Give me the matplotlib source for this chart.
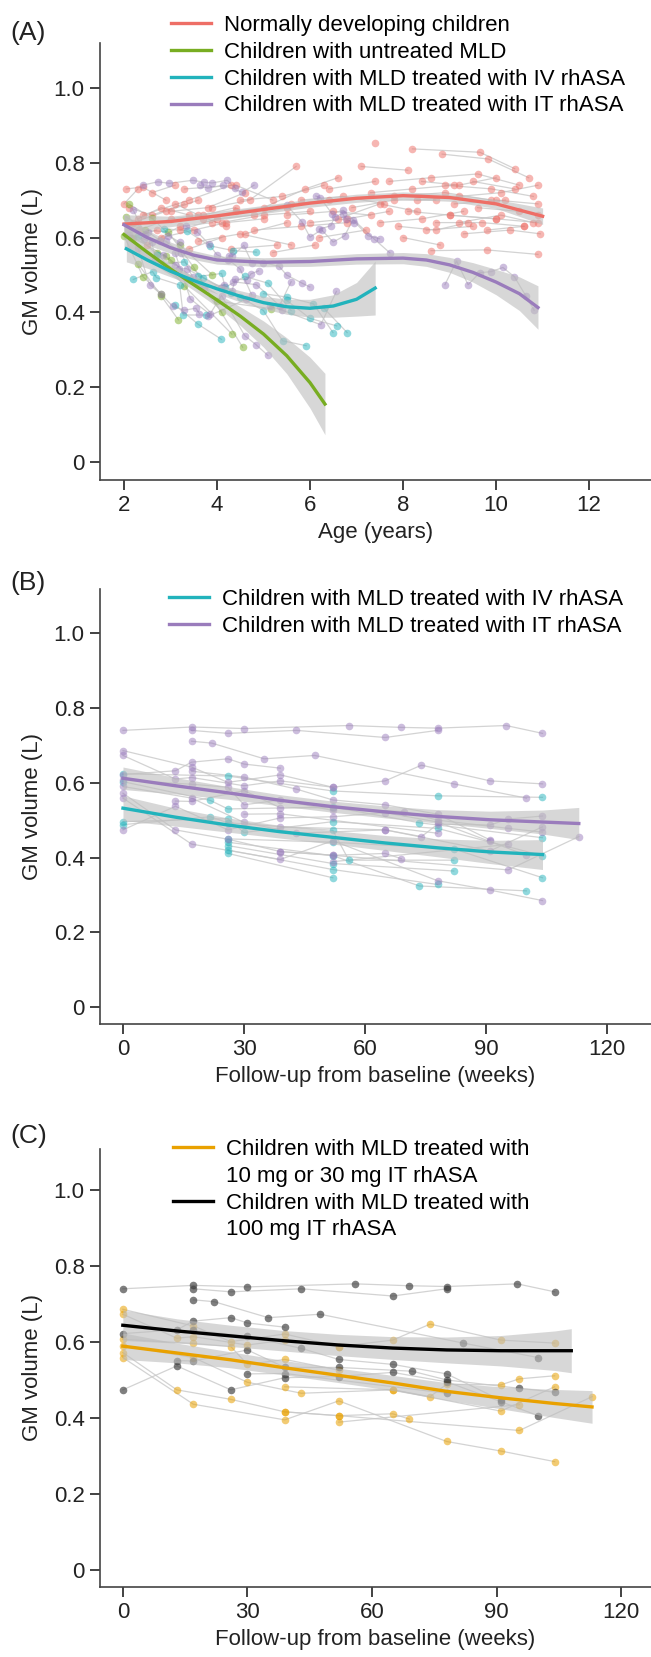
import numpy as np
import matplotlib.pyplot as plt
from matplotlib.lines import Line2D

plt.rcParams['font.family'] = ['Liberation Sans', 'DejaVu Sans']

RED, GREEN, TEAL, PURPLE = '#EE6E66', '#78AD22', '#22B3BC', '#9A7CBC'
ORANGE, BLACK = '#E9A100', '#000000'

# ---------------- panel A data: normally developing children (age, GM volume)
red_ages = [
    [2.05, 2.4, 2.9], [2.1, 2.6, 3.3], [2.2, 2.9, 3.6], [2.15, 2.7], [2.3, 3.0, 3.7, 4.4],
    [2.5, 3.2, 3.9], [2.4, 3.4, 4.3], [2.6, 3.1], [2.8, 3.5, 4.2, 5.0], [3.0, 3.8, 4.6],
    [3.2, 4.0, 4.8, 5.5], [3.4, 4.1], [3.3, 4.4, 5.2], [3.6, 4.5, 5.6], [3.9, 4.7, 5.7],
    [4.1, 5.0, 6.0], [4.3, 5.3], [4.5, 5.4, 6.3], [4.8, 5.8, 6.8], [5.0, 5.9, 6.6],
    [5.2, 6.1], [5.5, 6.5, 7.3], [5.8, 6.7, 7.6], [6.2, 7.2], [6.4, 7.4],
    [6.9, 7.8, 8.7], [7.1, 8.1], [7.4], [7.5, 8.4, 9.3], [7.7, 8.6, 9.6, 10.5],
    [7.8, 8.9, 9.9], [8.0, 8.8], [8.2, 9.65, 10.4], [8.1, 9.0, 10.0], [8.3, 9.2, 10.1, 10.9],
    [8.5, 9.5], [8.84, 9.83, 10.7], [8.7, 9.7, 10.6], [8.9, 9.9, 10.8], [9.0, 10.0, 10.9],
    [9.1, 10.2], [9.3, 10.3, 10.95], [8.6, 9.8, 10.9], [9.5, 10.4], [9.6, 10.5, 10.9],
    [9.2, 10.1, 10.8], [2.0, 2.3], [3.7, 4.4, 5.6, 6.4], [6.0, 6.8, 7.7], [9.8, 10.6],
    [8.4, 9.2, 10.0], [7.3, 8.2, 9.1], [10.0, 10.9], [7.9, 8.7, 9.4],
    [2.3, 2.8, 3.4], [4.6, 5.5], [6.6, 7.5, 8.3], [3.1, 3.6, 4.2],
]
red_vols = [
    [0.73, 0.735, 0.70], [0.68, 0.66, 0.69], [0.64, 0.67, 0.70], [0.60, 0.62], [0.62, 0.65, 0.66, 0.68],
    [0.58, 0.63, 0.64], [0.66, 0.70, 0.74], [0.72, 0.74], [0.60, 0.62, 0.64, 0.65], [0.67, 0.68, 0.72],
    [0.62, 0.65, 0.66, 0.68], [0.57, 0.60], [0.73, 0.74, 0.70], [0.59, 0.61, 0.58], [0.68, 0.70, 0.79],
    [0.64, 0.66, 0.67], [0.57, 0.58], [0.70, 0.71, 0.74], [0.62, 0.63, 0.64], [0.68, 0.73, 0.76],
    [0.56, 0.58], [0.66, 0.67, 0.66], [0.70, 0.71, 0.69], [0.60, 0.62], [0.73, 0.75],
    [0.68, 0.70, 0.70], [0.79, 0.78], [0.854], [0.64, 0.65, 0.67], [0.75, 0.76, 0.77, 0.74],
    [0.71, 0.72, 0.70], [0.60, 0.58], [0.837, 0.828, 0.784], [0.67, 0.66, 0.65], [0.70, 0.71, 0.72, 0.74],
    [0.62, 0.63], [0.823, 0.810, 0.76], [0.64, 0.64, 0.63], [0.74, 0.73, 0.71], [0.66, 0.65, 0.64],
    [0.69, 0.70], [0.61, 0.62, 0.61], [0.565, 0.567, 0.555], [0.75, 0.73], [0.68, 0.67, 0.66],
    [0.64, 0.66, 0.64], [0.69, 0.73], [0.65, 0.67, 0.69, 0.70], [0.64, 0.65, 0.67], [0.62, 0.63],
    [0.75, 0.74, 0.76], [0.72, 0.73, 0.74], [0.70, 0.69], [0.63, 0.62, 0.64],
    [0.65, 0.68, 0.66], [0.61, 0.64], [0.65, 0.69, 0.67], [0.69, 0.66, 0.63],
]

# untreated MLD
green_ages = [[2.1, 2.6, 3.2, 3.9], [2.05, 2.45, 2.95, 3.5, 4.55], [2.3, 2.8, 3.17], [2.0, 2.41, 2.8],
              [2.7, 3.3, 4.32], [3.0, 4.0, 5.16], [2.2, 2.9, 3.6, 4.1]]
green_vols = [[0.69, 0.652, 0.58, 0.50], [0.655, 0.62, 0.615, 0.52, 0.307], [0.53, 0.444, 0.38],
              [0.605, 0.495, 0.45], [0.56, 0.47, 0.342], [0.54, 0.43, 0.41], [0.60, 0.55, 0.48, 0.40]]

# ---------------- IV rhASA subjects (weeks from baseline, GM volume) + baseline age
iv_weeks = [[0, 26, 52, 78, 104], [0, 21.6, 26, 52, 73.5, 104], [0, 26, 30, 52, 78, 104],
            [0, 21.6, 26, 52, 56, 82], [26, 52, 82, 104], [26, 52, 73.5, 100], [26, 52, 82],
            [26, 52, 78], [26, 52]]
iv_vols = [[0.624, 0.618, 0.578, 0.565, 0.561], [0.603, 0.553, 0.530, 0.535, 0.493, 0.453],
           [0.496, 0.504, 0.467, 0.496, 0.478, 0.405], [0.488, 0.509, 0.493, 0.473, 0.393, 0.393],
           [0.450, 0.441, 0.423, 0.346], [0.441, 0.405, 0.324, 0.311], [0.432, 0.384, 0.364],
           [0.420, 0.368, 0.328], [0.411, 0.346]]
iv_base_age = [2.85, 2.3, 3.6, 2.2, 4.5, 4.0, 5.0, 2.6, 5.8]

# ---------------- IT rhASA subjects; dose 100 = 100 mg, 10 = 10 or 30 mg
it_weeks = [[0, 17, 30, 56, 69, 78, 95, 104], [17, 26, 43, 65, 78], [17, 22, 35, 47.5, 82, 100],
            [0, 13, 17, 26, 30, 39], [17, 30, 43, 52, 65, 78, 91],
            [13, 17, 30, 39, 52, 69.7, 78, 95.5, 104], [0, 13, 26, 39, 52, 65, 78, 91, 100],
            [30, 39, 78],
            [0, 17, 26, 39, 52, 65, 74, 91, 104], [0, 13, 17, 30, 39, 52], [0, 17, 26, 30, 39, 52],
            [0, 17, 30, 43, 65, 74, 78, 91, 95.5, 104], [0, 13, 26, 39, 52, 65, 69],
            [0, 17, 39, 52, 78, 91, 104], [39, 65, 91, 104], [39, 52, 95.5, 113], [52, 95.5]]
it_vols = [[0.740, 0.749, 0.745, 0.753, 0.748, 0.746, 0.753, 0.732], [0.740, 0.732, 0.740, 0.721, 0.740],
           [0.711, 0.706, 0.664, 0.673, 0.597, 0.559], [0.622, 0.632, 0.655, 0.664, 0.650, 0.639],
           [0.631, 0.615, 0.583, 0.554, 0.541, 0.516, 0.447],
           [0.551, 0.550, 0.579, 0.533, 0.533, 0.523, 0.500, 0.478, 0.468],
           [0.474, 0.537, 0.474, 0.506, 0.509, 0.520, 0.495, 0.443, 0.406],
           [0.516, 0.517, 0.465],
           [0.686, 0.642, 0.601, 0.621, 0.588, 0.605, 0.647, 0.605, 0.597],
           [0.673, 0.610, 0.614, 0.592, 0.605, 0.588], [0.607, 0.596, 0.588, 0.541, 0.554, 0.526],
           [0.590, 0.559, 0.494, 0.465, 0.474, 0.456, 0.489, 0.487, 0.503, 0.511],
           [0.572, 0.474, 0.449, 0.416, 0.406, 0.411, 0.397],
           [0.559, 0.436, 0.395, 0.445, 0.338, 0.313, 0.285], [0.482, 0.474, 0.418, 0.482],
           [0.416, 0.406, 0.367, 0.456], [0.389, 0.435]]
it_dose = [100] * 8 + [10] * 9
it_base_age = [2.4, 3.3, 5.8, 6.2, 3.0, 4.0, 8.9, 2.6, 5.5, 2.2, 2.1, 2.9, 2.3, 3.1, 3.6, 4.4, 2.8]

# ---------------- fitted curves (x, fit, CI half-width)
fitA = {
    'red': ([2, 3, 4, 5, 6, 7, 8, 9, 10, 11],
            [0.636, 0.643, 0.658, 0.675, 0.692, 0.705, 0.712, 0.707, 0.690, 0.657],
            [0.025, 0.014, 0.012, 0.011, 0.011, 0.011, 0.010, 0.010, 0.012, 0.022]),
    'green': ([2, 2.5, 3, 3.5, 4, 4.5, 5, 5.5, 6, 6.32],
              [0.608, 0.561, 0.516, 0.474, 0.433, 0.390, 0.342, 0.284, 0.212, 0.155],
              [0.035, 0.022, 0.016, 0.015, 0.018, 0.025, 0.035, 0.048, 0.068, 0.082]),
    'teal': ([2.05, 2.5, 3, 3.5, 4, 4.5, 5, 5.5, 6, 6.5, 7, 7.4],
             [0.570, 0.540, 0.510, 0.485, 0.463, 0.443, 0.426, 0.415, 0.411, 0.417, 0.435, 0.465],
             [0.035, 0.022, 0.015, 0.013, 0.013, 0.015, 0.017, 0.020, 0.024, 0.030, 0.045, 0.072]),
    'purple': ([2, 2.5, 3, 3.5, 4, 5, 6, 7, 8, 8.5, 9, 9.5, 10, 10.5, 10.9],
               [0.634, 0.600, 0.573, 0.553, 0.540, 0.534, 0.536, 0.543, 0.545, 0.540, 0.527, 0.507,
                0.481, 0.450, 0.413],
               [0.03, 0.02, 0.015, 0.012, 0.011, 0.012, 0.013, 0.014, 0.015, 0.017, 0.020, 0.026,
                0.034, 0.045, 0.058]),
}
fitB_it = ([0, 13, 26, 39, 52, 65, 78, 91, 104, 113],
           [0.612, 0.592, 0.573, 0.553, 0.536, 0.522, 0.510, 0.501, 0.495, 0.491],
           [0.03, 0.022, 0.017, 0.015, 0.015, 0.016, 0.018, 0.023, 0.032, 0.043])
fitB_iv = ([0, 13, 26, 39, 52, 65, 78, 91, 104],
           [0.532, 0.508, 0.487, 0.469, 0.454, 0.439, 0.426, 0.415, 0.408],
           [0.033, 0.024, 0.019, 0.017, 0.018, 0.02, 0.024, 0.031, 0.04])
fitC_100 = ([0, 13, 26, 39, 52, 65, 78, 91, 104, 108],
            [0.644, 0.629, 0.616, 0.603, 0.592, 0.584, 0.579, 0.577, 0.577, 0.577],
            [0.04, 0.032, 0.028, 0.027, 0.028, 0.030, 0.034, 0.040, 0.052, 0.058])
fitC_10 = ([0, 13, 26, 39, 52, 65, 78, 91, 104, 113],
           [0.589, 0.571, 0.553, 0.532, 0.512, 0.492, 0.470, 0.453, 0.438, 0.429],
           [0.035, 0.026, 0.021, 0.019, 0.019, 0.02, 0.023, 0.029, 0.037, 0.043])

labelsA = ['Normally developing children', 'Children with untreated MLD',
           'Children with MLD treated with IV rhASA', 'Children with MLD treated with IT rhASA']
labelsC = ['Children with MLD treated with', '10 mg or 30 mg IT rhASA',
           'Children with MLD treated with', '100 mg IT rhASA']


def subjects(ax, xs, ys, color, alpha=0.5):
    for x, y in zip(xs, ys):
        ax.plot(x, y, color='#c8c8c8', lw=0.9, alpha=0.8, zorder=1)
    for x, y in zip(xs, ys):
        ax.scatter(x, y, s=30, color=color, alpha=alpha, lw=0, zorder=2)


def band(ax, fit, color):
    x, y, h = (np.array(v) for v in fit)
    ax.fill_between(x, y - h, y + h, color='#bdbdbd', alpha=0.6, lw=0, zorder=3)
    return ax.plot(x, y, color=color, lw=2.4, zorder=4)[0]


def style(ax, xlim, ylim, xticks, xlabel):
    ax.set_xlim(*xlim)
    ax.set_ylim(*ylim)
    ax.set_xticks(xticks)
    ax.set_yticks([0, 0.2, 0.4, 0.6, 0.8, 1.0])
    ax.set_yticklabels(['0', '0.2', '0.4', '0.6', '0.8', '1.0'])
    for s in ['top', 'right']:
        ax.spines[s].set_visible(False)
    for s in ['left', 'bottom']:
        ax.spines[s].set_color('#444444')
        ax.spines[s].set_linewidth(1.2)
    ax.tick_params(direction='out', length=7, width=1.2, color='#222222',
                   labelsize=16, labelcolor='#222222', pad=4)
    ax.set_xlabel(xlabel, fontsize=16, color='#222222', labelpad=4)
    ax.set_ylabel('GM volume (L)', fontsize=16, color='#222222', labelpad=8)


fig = plt.figure(figsize=(6.51, 16.57), dpi=100)
axA = fig.add_axes([100 / 651, 0.71032, 551 / 651, 0.26373])
axB = fig.add_axes([100 / 651, 0.38202, 551 / 651, 0.26252])
axC = fig.add_axes([100 / 651, 0.04225, 551 / 651, 0.26433])

# ---- A
subjects(axA, red_ages, red_vols, RED)
subjects(axA, green_ages, green_vols, GREEN)
subjects(axA, [[b + w / 52.18 for w in ws] for b, ws in zip(iv_base_age, iv_weeks)], iv_vols, TEAL)
subjects(axA, [[b + w / 52.18 for w in ws] for b, ws in zip(it_base_age, it_weeks)], it_vols, PURPLE)
hA = [band(axA, fitA[k], c) for k, c in zip(['red', 'green', 'teal', 'purple'], [RED, GREEN, TEAL, PURPLE])]
style(axA, (1.484, 13.33), (-0.048, 1.12), [2, 4, 6, 8, 10, 12], 'Age (years)')

# ---- B
subjects(axB, iv_weeks, iv_vols, TEAL)
subjects(axB, it_weeks, it_vols, PURPLE)
hB = [band(axB, fitB_iv, TEAL), band(axB, fitB_it, PURPLE)]
style(axB, (-5.7, 130.9), (-0.045, 1.118), [0, 30, 60, 90, 120], 'Follow-up from baseline (weeks)')

# ---- C
hi_w = [w for w, d in zip(it_weeks, it_dose) if d == 100]
hi_v = [v for v, d in zip(it_vols, it_dose) if d == 100]
lo_w = [w for w, d in zip(it_weeks, it_dose) if d != 100]
lo_v = [v for v, d in zip(it_vols, it_dose) if d != 100]
subjects(axC, lo_w, lo_v, ORANGE, alpha=0.55)
subjects(axC, hi_w, hi_v, '#3a3a3a', alpha=0.65)
h10 = band(axC, fitC_10, ORANGE)
h100 = band(axC, fitC_100, BLACK)
style(axC, (-5.5, 127.2), (-0.045, 1.108), [0, 30, 60, 90, 120], 'Follow-up from baseline (weeks)')
blank = Line2D([], [], color='none')

leg_kw = dict(loc='upper left', bbox_transform=fig.transFigure, frameon=False, fontsize=16,
              borderpad=0, borderaxespad=0, handlelength=1.8, handletextpad=0.6, labelspacing=0.26)
axA.legend(hA, labelsA, bbox_to_anchor=(171 / 651, 1 - 15 / 1657), **leg_kw)
axB.legend(hB, labelsA[2:], bbox_to_anchor=(169 / 651, 1 - 589 / 1657), **leg_kw)
axC.legend([h10, blank, h100, blank], labelsC, bbox_to_anchor=(173 / 651, 1 - 1139 / 1657), **leg_kw)

for lab, y in zip(['(A)', '(B)', '(C)'], [33, 583, 1136]):
    fig.text(10 / 651, 1 - y / 1657, lab, fontsize=19, color='#222222', va='center', ha='left')

fig.savefig('out.png', dpi=100)
